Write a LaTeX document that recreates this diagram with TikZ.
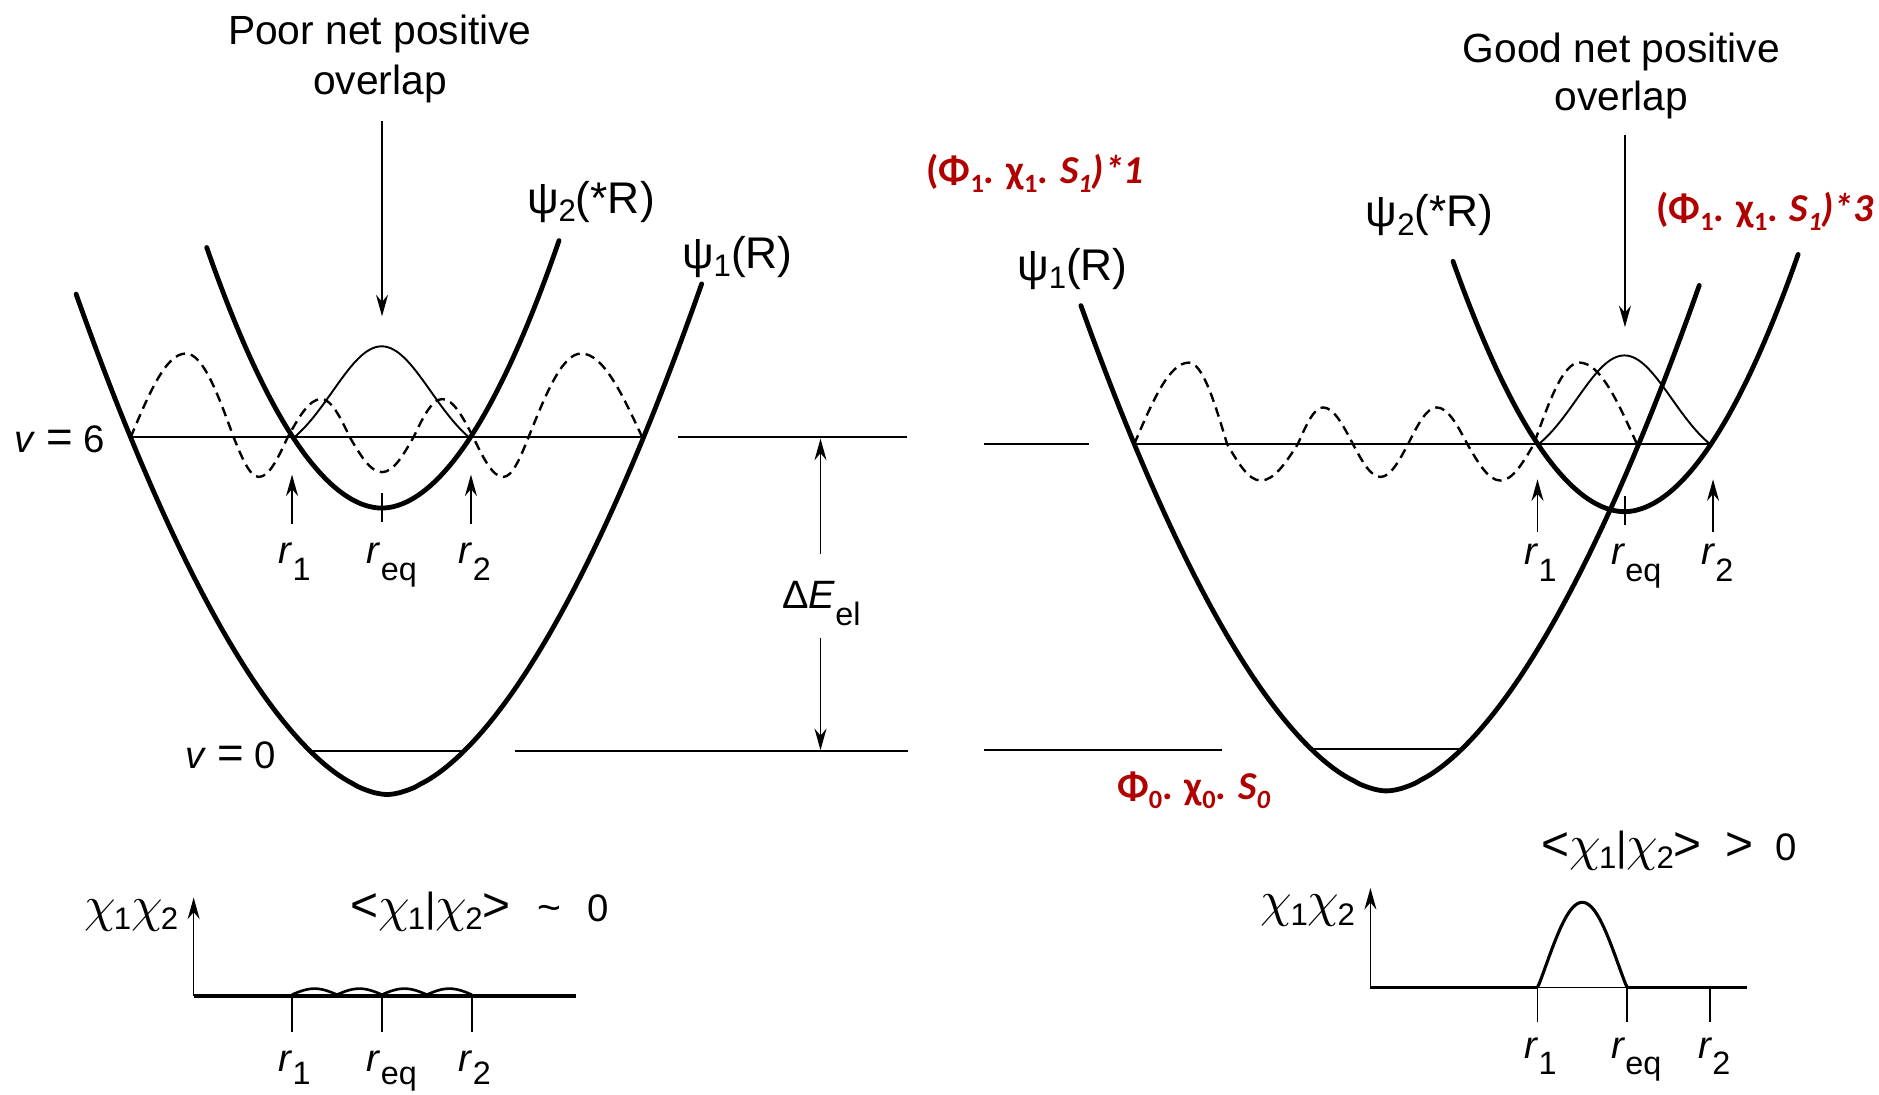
\documentclass[tikz,border=0pt]{standalone}
\usepackage{fontspec}
\usepackage{graphicx}
\setmainfont{Liberation Sans}
\newfontfamily\redfont{Carlito}
\usetikzlibrary{arrows.meta}
\definecolor{darkred}{RGB}{176,0,0}
\DeclareFontFamily{OML}{mychi}{\skewchar\font=127}
\DeclareFontShape{OML}{mychi}{m}{it}{<-> cmmi10}{}
% subscripts
\newcommand\bsub[1]{\raisebox{-7pt}{\fontsize{26}{26}\selectfont #1}}
\newcommand\lsub[1]{\raisebox{-14pt}{\fontsize{27}{27}\selectfont #1}}
\newcommand\lsubb[1]{\raisebox{-11pt}{\fontsize{27}{27}\selectfont #1}}
\newcommand\rsub[1]{\raisebox{-0.22em}{\fontsize{22}{22}\selectfont #1}}
% chi and big relation signs
\newcommand\chia{{\fontsize{42}{44}\usefont{OML}{mychi}{m}{it}\char"1F}\kern-1.5pt}
\newcommand\bigrel[1]{{\fontsize{40}{40}\selectfont #1}}
\begin{document}
\begin{tikzpicture}[x=1pt,y=-1pt,
  well/.style={line width=4pt, line cap=round},
  level/.style={line width=1.6pt},
  wave/.style={line width=2pt, dash pattern=on 8pt off 5pt},
  gauss/.style={line width=1.6pt},
  thinarrow/.style={line width=1.4pt, -{Stealth[length=18pt,width=10pt]}},
  tick/.style={line width=1.4pt},
  lbl/.style={inner sep=0pt, font=\fontsize{37}{40}\selectfont},
  rlbl/.style={inner sep=0pt, font=\fontsize{32}{40}\selectfont},
  nlbl/.style={inner sep=0pt, font=\fontsize{32}{40}\selectfont},
  title/.style={inner sep=0pt, font=\fontsize{34}{41}\selectfont},
  redlbl/.style={inner sep=0pt, text=darkred, font=\redfont\bfseries\fontsize{33}{40}\selectfont},
]
\fill[white] (0,0) rectangle (1568,913);
\useasboundingbox (0,0) rectangle (1568,913);

% ================= LEFT PANEL =================
\node[title, anchor=base] (poorA) at (317,37) {Poor net positive};
\node[title, anchor=base] (poorB) at (317,79) {overlap};
\coordinate (poorS) at (318.8,101); \coordinate (poorE) at (318.8,264);
\draw[thinarrow] (poorS) -- (poorE);

\node[lbl, anchor=base west] (lpsi2) at (439.6,178) {ψ\bsub{2}(*R)};
\node[lbl, anchor=base west] (lpsi1) at (569,224) {ψ\bsub{1}(R)};

% wells
\draw[well] plot[domain=-259.5:262.5, samples=121, smooth] ({323+\x},{663-298*((abs(\x)+0.01)/214)^1.75});
\draw[well] plot[domain=-146:148, samples=81, smooth] ({318.5+\x},{424-59*((abs(\x)+0.01)/74)^1.92});

% levels
\coordinate (L6a) at (109,365); \coordinate (L6b) at (536,365);
\coordinate (L6c) at (566,365); \coordinate (L6d) at (757,365);
\draw[level] (L6a) -- (L6b);
\draw[level] (L6c) -- (L6d);
\coordinate (L0a) at (260,627); \coordinate (L0b) at (385,627);
\coordinate (L0c) at (430,627); \coordinate (L0d) at (758,627);
\draw[level] (L0a) -- (L0b);
\draw[level] (L0c) -- (L0d);
\node[nlbl, anchor=base west] (v6) at (12,378) {\textit{v} {\fontsize{38}{40}\selectfont =} 6};
\node[nlbl, anchor=base west] (v0) at (155,641) {\textit{v} {\fontsize{38}{40}\selectfont =} 0};

% dashed wave (v=6)
\draw[wave] (109,365) sin (155,295) cos (195,365) sin (216,398) cos (240,365)
  sin (268,333) cos (292,365) sin (318.8,394) cos (345,365) sin (369,333)
  cos (395,365) sin (420,398) cos (441,365) sin (485,295) cos (536,365);

% gaussian
\draw[gauss] plot[domain=-73:73, samples=61, smooth]
  ({318.5+\x},{365-76*(exp(-(\x/58)*(\x/58))-exp(-(73/58)*(73/58)))/(1-exp(-(73/58)*(73/58)))});

% r markers
\coordinate (lr1a) at (243.7,437); \coordinate (lr1b) at (243.7,396);
\coordinate (lr2a) at (393,437); \coordinate (lr2b) at (393,396);
\coordinate (lrqa) at (318.8,411); \coordinate (lrqb) at (318.8,436);
\draw[thinarrow] (lr1a) -- (lr1b);
\draw[thinarrow] (lr2a) -- (lr2b);
\draw[tick] (lrqa) -- (lrqb);
\node[rlbl, anchor=base west] (lr1) at (232.3,470) {\textit{r}\lsub{1}};
\node[rlbl, anchor=base west] (lrq) at (306,470) {\textit{r}\lsub{eq}};
\node[rlbl, anchor=base west] (lr2) at (382.6,470) {\textit{r}\lsub{2}};

% Delta E
\node[inner sep=0pt, font=\fontsize{33}{40}\selectfont, anchor=base west] (dE) at (652.5,508) {Δ\textit{E}\lsub{el}};
\coordinate (dEa) at (684.7,462); \coordinate (dEb) at (684.7,366);
\coordinate (dEc) at (684.7,532); \coordinate (dEd) at (684.7,626);
\draw[thinarrow] (dEa) -- (dEb);
\draw[thinarrow] (dEc) -- (dEd);

% bottom-left overlap plot
\node[lbl, anchor=base west] (lchi) at (70,769) {\chia\bsub{1}\chia\bsub{2}};
\node[nlbl, anchor=base west] (lov) at (292,769) {\bigrel{<}\chia\bsub{1}{\fontsize{34}{40}\selectfont |}\chia\bsub{2}\bigrel{>}\hspace{22pt}{\fontsize{34}{40}\selectfont\textasciitilde}\hspace{22pt}0};
\coordinate (lax0) at (161.6,831); \coordinate (laxy) at (161.6,749); \coordinate (laxx) at (480.4,831);
\draw[thinarrow] (lax0) -- (laxy);
\draw[line width=3pt] (lax0) -- (laxx);
\draw[line width=2.2pt] plot[domain=0:150, samples=121, smooth] ({243.7+\x},{830-5*abs(sin(\x/37.5*180))});
\foreach \xx/\nm in {243.7/a,318.8/b,393.6/c}{
  \coordinate (lt\nm1) at (\xx,831); \coordinate (lt\nm2) at (\xx,861);
  \draw[tick] (lt\nm1) -- (lt\nm2);
}
\node[rlbl, anchor=base west] (lbr1) at (232.3,894) {\textit{r}\lsubb{1}};
\node[rlbl, anchor=base west] (lbrq) at (306,894) {\textit{r}\lsubb{eq}};
\node[rlbl, anchor=base west] (lbr2) at (382.6,894) {\textit{r}\lsubb{2}};

% ================= RIGHT PANEL =================
\node[title, anchor=base] (goodA) at (1353,52) {Good net positive};
\node[title, anchor=base] (goodB) at (1353,92) {overlap};
\coordinate (goodS) at (1356,113); \coordinate (goodE) at (1356,273);
\draw[thinarrow] (goodS) -- (goodE);

\node[redlbl, anchor=base west] (s1a) at (773,153) {(Φ\rsub{1}. χ\rsub{1}. \textit{S\rsub{1})*1}};
\node[redlbl, anchor=base west] (s1b) at (1382,185) {(Φ\rsub{1}. χ\rsub{1}. \textit{S\rsub{1})*3}};
\node[redlbl, anchor=base west] (s0) at (932,667) {Φ\rsub{0}. χ\rsub{0}. \textit{S\rsub{0}}};

\node[lbl, anchor=base west] (rpsi1) at (848.6,233.7) {ψ\bsub{1}(R)};
\node[lbl, anchor=base west] (rpsi2) at (1139.4,189.2) {ψ\bsub{2}(*R)};

% wells
\draw[well] plot[domain=-255:261, samples=121, smooth] ({1157+\x},{660-298*((abs(\x)+0.01)/214)^1.75});
\draw[well] plot[domain=-143:145, samples=81, smooth] ({1355.5+\x},{427-59*((abs(\x)+0.01)/74)^1.92});

% levels
\coordinate (R6a) at (946.5,370.6); \coordinate (R6b) at (1427,370.6);
\coordinate (R6c) at (821,370.6); \coordinate (R6d) at (908.6,370.6);
\draw[level] (R6a) -- (R6b);
\draw[level] (R6c) -- (R6d);
\coordinate (R0a) at (1094,625); \coordinate (R0b) at (1220,625);
\coordinate (R0c) at (821,626); \coordinate (R0d) at (1019.6,626);
\draw[level] (R0a) -- (R0b);
\draw[level] (R0c) -- (R0d);

% dashed wave
\draw[wave] (946.5,370.6) sin (992,302.6) cos (1024,370.6) sin (1052,401) cos (1083,370.6)
  sin (1104,340) cos (1129,370.6) sin (1152,398) cos (1175,370.6) sin (1199,340)
  cos (1224.5,370.6) sin (1252,401) cos (1280,370.6) sin (1318,302.6) cos (1366,370.6);

% gaussian
\draw[gauss] plot[domain=-71.5:71.5, samples=61, smooth]
  ({1355.5+\x},{370.6-74*(exp(-(\x/56)*(\x/56))-exp(-(71.5/56)*(71.5/56)))/(1-exp(-(71.5/56)*(71.5/56)))});

% r markers
\coordinate (rr1a) at (1283,444); \coordinate (rr1b) at (1283,400);
\coordinate (rr2a) at (1429.5,444); \coordinate (rr2b) at (1429.5,400);
\coordinate (rrqa) at (1356,414); \coordinate (rrqb) at (1356,438);
\draw[thinarrow] (rr1a) -- (rr1b);
\draw[thinarrow] (rr2a) -- (rr2b);
\draw[tick] (rrqa) -- (rrqb);
\node[rlbl, anchor=base west] (rr1) at (1272,471) {\textit{r}\lsub{1}};
\node[rlbl, anchor=base west] (rrq) at (1344.5,471) {\textit{r}\lsub{eq}};
\node[rlbl, anchor=base west] (rr2) at (1419.5,471) {\textit{r}\lsub{2}};

% bottom-right overlap plot
\node[lbl, anchor=base west] (rchi) at (1052,765) {\chia\bsub{1}\chia\bsub{2}};
\node[nlbl, anchor=base west] (rov) at (1286,718) {\bigrel{<}\chia\bsub{1}{\fontsize{34}{40}\selectfont |}\chia\bsub{2}\bigrel{>}\hspace{20pt}\bigrel{>}\hspace{18pt}0};
\coordinate (rax0) at (1143.6,824); \coordinate (raxy) at (1143.6,741);
\coordinate (rbA) at (1283,824); \coordinate (rbB) at (1357.8,824); \coordinate (raxx) at (1458,824);
\draw[thinarrow] (rax0) -- (raxy);
\draw[line width=3pt] (rax0) -- (rbA);
\draw[line width=1.4pt] (rbA) -- (rbB);
\draw[line width=3pt] (rbB) -- (raxx);
\draw[line width=2.6pt] plot[domain=0:74.8, samples=81, smooth] ({1283+\x},{824-71*((1+cos(180*(\x-37.4)/37.4))/2+0.00001)^0.55});
\foreach \xx/\nm in {1283/a,1357.8/b,1427/c}{
  \coordinate (rt\nm1) at (\xx,824); \coordinate (rt\nm2) at (\xx,853);
  \draw[tick] (rt\nm1) -- (rt\nm2);
}
\node[rlbl, anchor=base west] (rbr1) at (1272,883) {\textit{r}\lsub{1}};
\node[rlbl, anchor=base west] (rbrq) at (1344.5,883) {\textit{r}\lsub{eq}};
\node[rlbl, anchor=base west] (rbr2) at (1417,883) {\textit{r}\lsub{2}};
\end{tikzpicture}
\end{document}
